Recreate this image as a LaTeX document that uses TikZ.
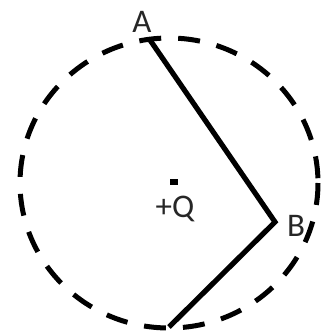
\documentclass[tikz,border=0pt]{standalone}
\usepackage{fontspec}
\setmainfont{Carlito}
\begin{document}
\begin{tikzpicture}[x=1pt,y=-1pt,
  solidline/.style={line width=5.2pt, line join=miter},
  circ/.style={line width=5pt, dash pattern=on 22pt off 17pt},
  lbl/.style={font=\fontsize{33}{35}\selectfont, inner sep=0pt, anchor=base, text=black!85}]
\useasboundingbox (0,0) rectangle (331,335);
\draw[circ] (169,183) ellipse [x radius=149, y radius=145];
\coordinate (a) at (150,40);
\coordinate (b) at (275,222);
\coordinate (c) at (169,327);
\draw[solidline] (a) -- (b) -- (c);
\fill (174,182) coordinate (q) +(-4,-3) rectangle +(4,3);
\node[lbl] (la) at (142,32) {A};
\node[lbl] (lb) at (296,236) {B};
\node[lbl] (lq) at (175,217) {+Q};
\end{tikzpicture}
\end{document}
